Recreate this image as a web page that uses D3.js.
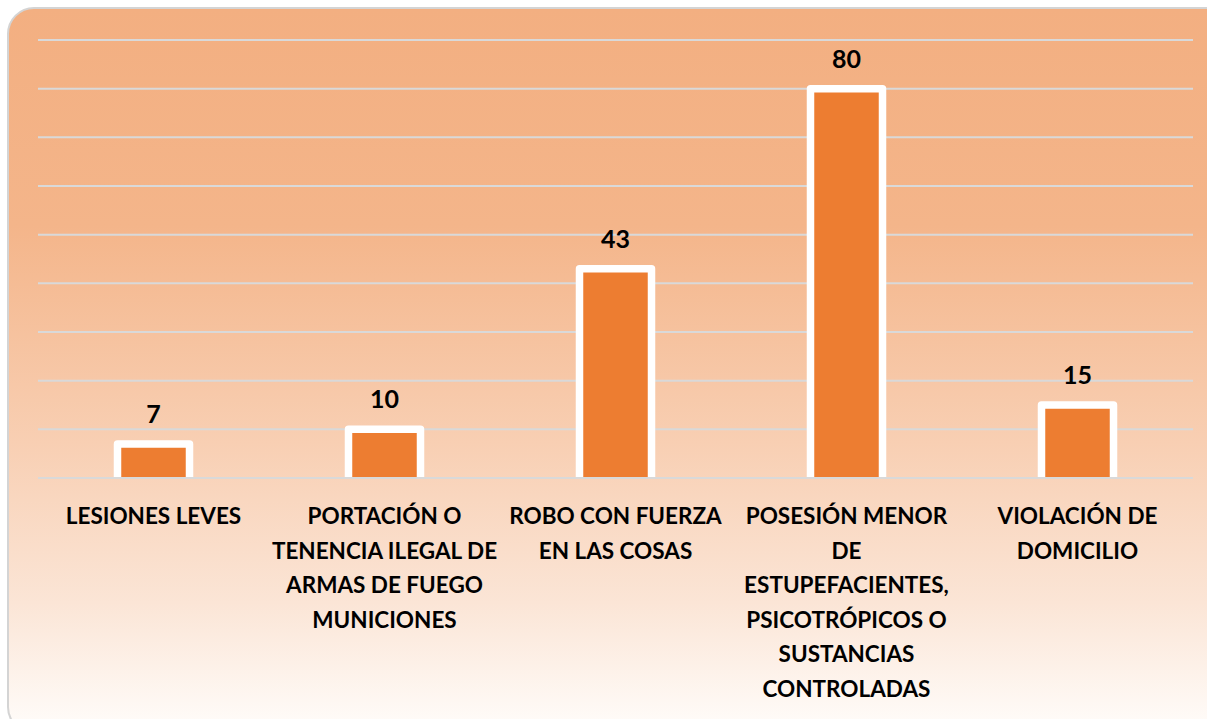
<!DOCTYPE html>
<html><head><meta charset="utf-8">
<script src="https://cdn.jsdelivr.net/npm/d3@7"></script>
<style>html,body{margin:0;padding:0;background:#fff;}svg{display:block;}</style>
</head><body>
<script>
const categories = [
  ["LESIONES LEVES"],
  ["PORTACIÓN O", "TENENCIA ILEGAL DE", "ARMAS DE FUEGO", "MUNICIONES"],
  ["ROBO CON FUERZA", "EN LAS COSAS"],
  ["POSESIÓN MENOR", "DE", "ESTUPEFACIENTES,", "PSICOTRÓPICOS O", "SUSTANCIAS", "CONTROLADAS"],
  ["VIOLACIÓN DE", "DOMICILIO"]
];
const values = [7, 10, 43, 80, 15];
const yTicks = [0, 10, 20, 30, 40, 50, 60, 70, 80, 90];

const W = 1207, H = 719;
const svg = d3.select("body").append("svg").attr("width", W).attr("height", H);
const defs = svg.append("defs");
const grad = defs.append("linearGradient").attr("id", "bg").attr("x1", 0).attr("y1", 0).attr("x2", 0).attr("y2", 1);
[[0, "#F3AF81"], [0.3, "#F4B58A"], [0.6, "#F8CFB3"], [0.82, "#FBE5D6"], [1, "#FFFDFB"]]
  .forEach(([o, c]) => grad.append("stop").attr("offset", o).attr("stop-color", c));

svg.append("rect").attr("x", 8).attr("y", 8).attr("width", 1225).attr("height", 725)
  .attr("rx", 26).attr("fill", "url(#bg)").attr("stroke", "#D4D4D4").attr("stroke-width", 2);

const x = d3.scaleBand().domain(d3.range(values.length)).range([38, 1193]).padding(0);
const y = d3.scaleLinear().domain([0, 90]).range([478, 40]);
const barW = 72;

// gridlines
svg.append("g").selectAll("line").data(yTicks).join("line")
  .attr("x1", 38).attr("x2", 1193)
  .attr("y1", d => y(d)).attr("y2", d => y(d))
  .attr("stroke", "#D9D9D9").attr("stroke-width", 2);

defs.append("clipPath").attr("id", "plot").append("rect")
  .attr("x", 0).attr("y", 0).attr("width", W).attr("height", y(0) - 1);

svg.append("g").attr("clip-path", "url(#plot)").selectAll("rect").data(values).join("rect")
  .attr("x", (d, i) => x(i) + x.bandwidth() / 2 - barW / 2)
  .attr("width", barW)
  .attr("y", d => y(d))
  .attr("height", d => y(0) - y(d) + 6)
  .attr("fill", "#ED7D31")
  .attr("stroke", "#FFFFFF").attr("stroke-width", 7.5)
  .attr("stroke-linejoin", "round");

// value labels
svg.append("g").selectAll("text").data(values).join("text")
  .attr("x", (d, i) => x(i) + x.bandwidth() / 2)
  .attr("y", d => y(d) - 21)
  .attr("text-anchor", "middle")
  .attr("font-family", "Lato, 'Open Sans', sans-serif")
  .attr("font-weight", "bold").attr("font-size", 25)
  .attr("fill", "#000")
  .text(d => d);

// category labels
const cat = svg.append("g").selectAll("text").data(categories).join("text")
  .attr("x", (d, i) => x(i) + x.bandwidth() / 2)
  .attr("y", 524)
  .attr("text-anchor", "middle")
  .attr("font-family", "Lato, 'Open Sans', sans-serif")
  .attr("font-weight", "bold").attr("font-size", 22.5)
  .attr("fill", "#000");
cat.selectAll("tspan").data(d => d).join("tspan")
  .attr("x", function() { return d3.select(this.parentNode).attr("x"); })
  .attr("dy", (d, j) => j === 0 ? 0 : 34.6)
  .text(d => d);
</script>
</body></html>
